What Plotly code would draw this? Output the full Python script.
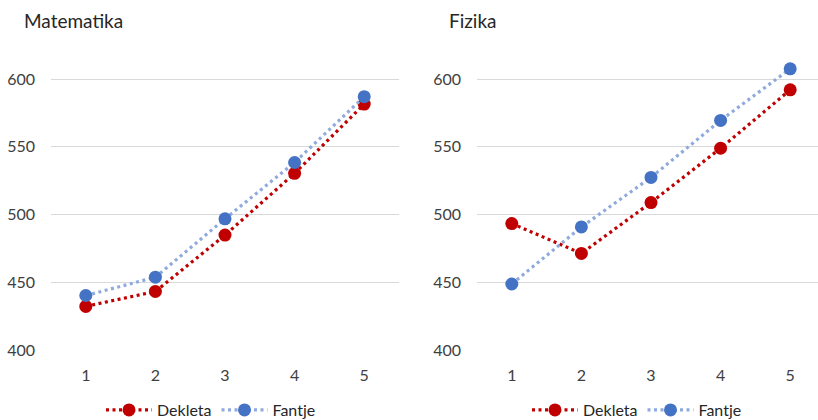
import plotly.graph_objects as go

# Razredi (x) in povprečni dosežki
razredi = [1, 2, 3, 4, 5]

mat_dekleta = [432.5, 443.5, 485, 530.5, 581.5]
mat_fantje = [440.5, 454, 497, 538.5, 587]

fiz_dekleta = [493.5, 471.5, 509, 549, 592]
fiz_fantje = [449, 491, 527.5, 569.5, 607.5]

y_ticks = [400, 450, 500, 550, 600]

RED = "#C00000"
BLUE = "#4472C4"
BLUE_LINE = "#8FAADC"
FONT = "Lato"

fig = go.Figure()


def add_series(x, y, name, color, line_color, xa, ya, legend):
    fig.add_trace(go.Scatter(
        x=x, y=y, name=name, mode="lines+markers",
        line=dict(color=line_color, width=3.2, dash="3px,3.5px"),
        marker=dict(color=color, size=13),
        xaxis=xa, yaxis=ya, legend=legend, cliponaxis=False,
    ))


add_series(razredi, mat_dekleta, "Dekleta", RED, RED, "x", "y", "legend")
add_series(razredi, mat_fantje, "Fantje", BLUE, BLUE_LINE, "x", "y", "legend")
add_series(razredi, fiz_dekleta, "Dekleta", RED, RED, "x2", "y2", "legend2")
add_series(razredi, fiz_fantje, "Fantje", BLUE, BLUE_LINE, "x2", "y2", "legend2")

W, H = 818, 420
# 400 sits at ~350px and 600 at ~79px; the axis runs up to 620
px_per_unit = (350.5 - 79.0) / 200
y_bottom_px = 350.5
y_top_px = y_bottom_px - 220 * px_per_unit
ydom = [(H - y_bottom_px) / H, (H - y_top_px) / H]

xaxis_common = dict(
    tickvals=razredi, ticktext=[str(v) for v in razredi],
    showgrid=False, zeroline=False, showline=False,
    ticks="", ticklabelstandoff=13,
    tickfont=dict(family=FONT, size=16, color="#404040"),
    fixedrange=True,
)
yaxis_common = dict(
    range=[400, 620], tickvals=y_ticks, domain=ydom,
    showgrid=True, gridcolor="#D9D9D9", gridwidth=1.3,
    zeroline=False, showline=False, ticks="", ticklabelstandoff=15,
    tickfont=dict(family=FONT, size=16, color="#404040"),
    fixedrange=True,
)

legend_common = dict(
    orientation="h", yanchor="middle", xanchor="center", y=10 / H,
    font=dict(family=FONT, size=16, color="#262626"),
    bgcolor="rgba(0,0,0,0)", itemwidth=46, tracegroupgap=0,
)

fig.update_layout(
    width=W, height=H,
    margin=dict(l=0, r=0, t=0, b=0, autoexpand=False),
    paper_bgcolor="white", plot_bgcolor="white",
    showlegend=True,
    xaxis=dict(domain=[51 / W, 399 / W], range=[0.5, 5.5], anchor="y", **xaxis_common),
    yaxis=dict(anchor="x", **yaxis_common),
    xaxis2=dict(domain=[477 / W, 1.0], range=[0.5, 0.5 + (W - 477) / 69.6], anchor="y2", **xaxis_common),
    yaxis2=dict(anchor="x2", **yaxis_common),
    legend=dict(x=211 / W, **legend_common),
    legend2=dict(x=637 / W, **legend_common),
    annotations=[
        dict(text="Matematika", x=22 / W, y=1 - 20 / H, xref="paper", yref="paper",
             xanchor="left", yanchor="middle", showarrow=False,
             font=dict(family=FONT, size=19, color="#262626")),
        dict(text="Fizika", x=447 / W, y=1 - 20 / H, xref="paper", yref="paper",
             xanchor="left", yanchor="middle", showarrow=False,
             font=dict(family=FONT, size=19, color="#262626")),
    ],
)

fig.write_html("out.html")
